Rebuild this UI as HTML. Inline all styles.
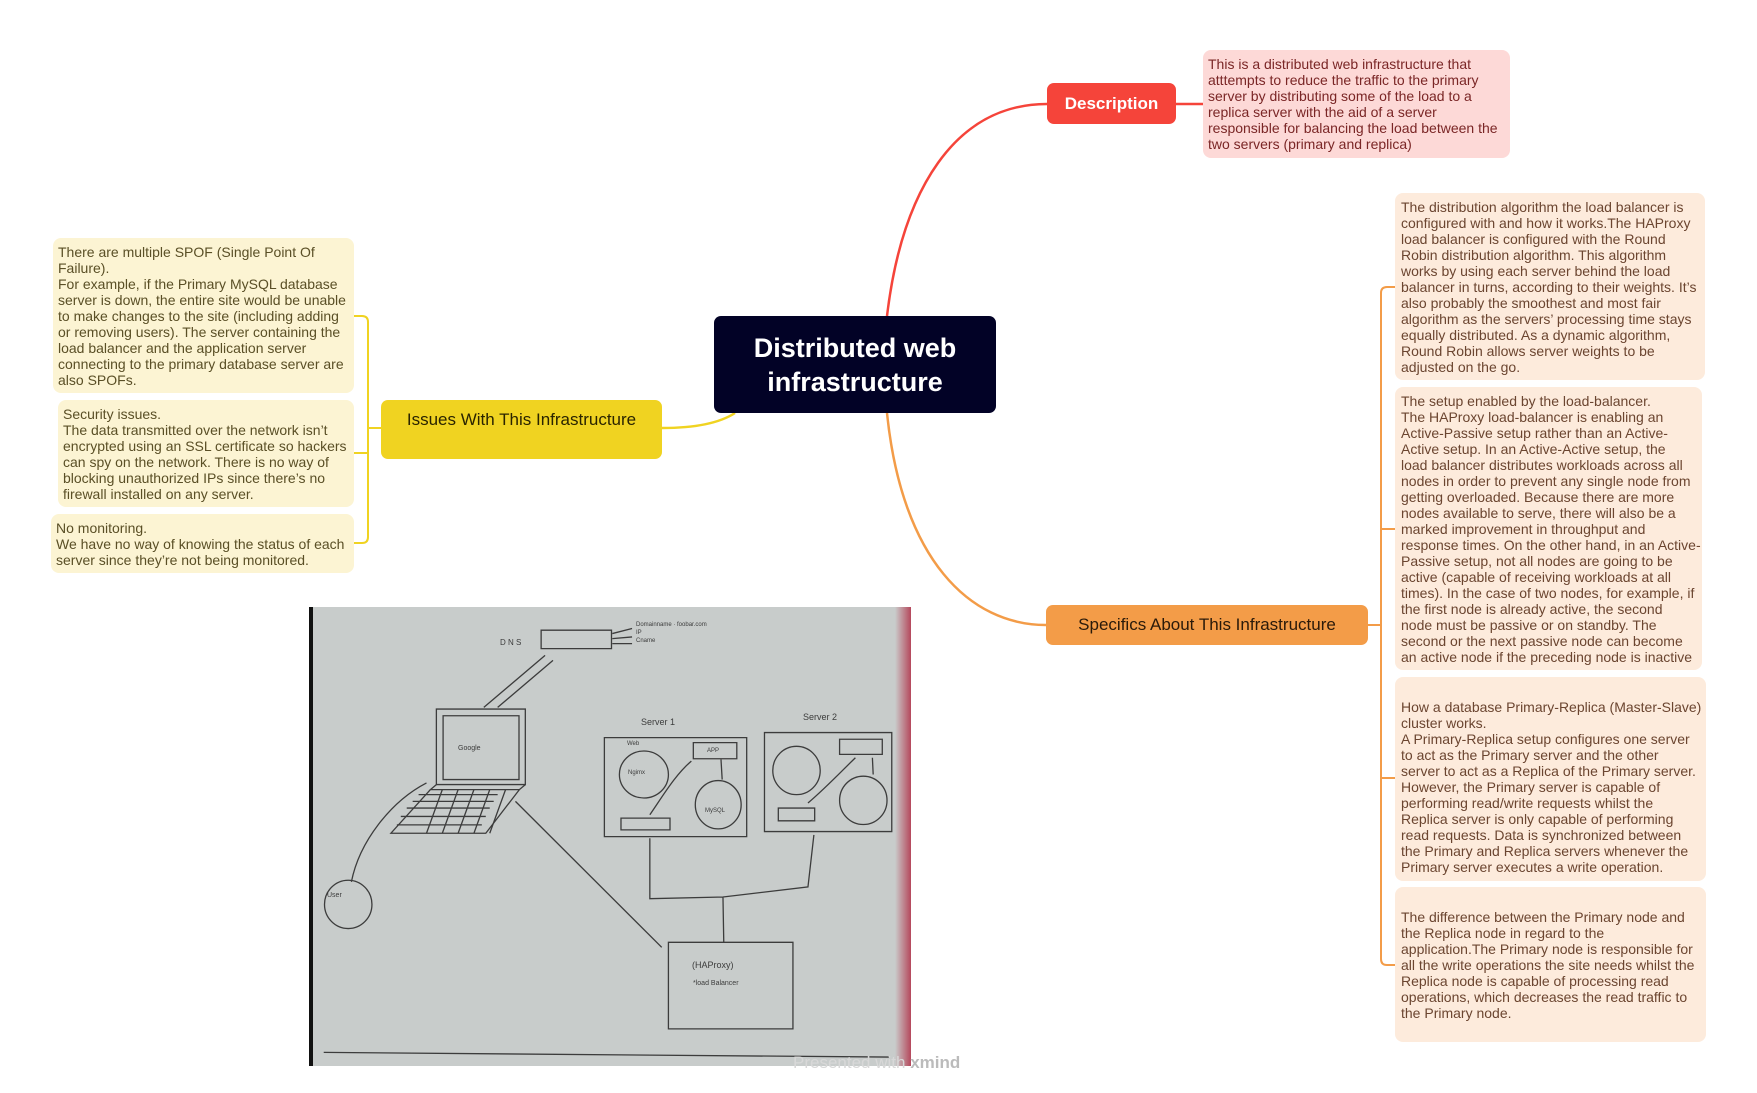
<!DOCTYPE html>
<html><head><meta charset="utf-8"><style>
body{margin:0;width:1757px;height:1093px;background:#fff;position:relative;overflow:hidden;font-family:"Liberation Sans",sans-serif}
.b{position:absolute;border-radius:8px}
.t{position:absolute;font-size:14px;line-height:16px;white-space:nowrap}
.lab{position:absolute;display:flex;align-items:center;justify-content:center;border-radius:7px;font-size:17px;white-space:nowrap}
</style></head><body>
<svg width="1757" height="1093" style="position:absolute;left:0;top:0">
<g fill="none" stroke-width="2.5">
<path d="M887 316 C902 190 955 104 1047 104" stroke="#f5443a"/>
<path d="M1176 104 L1203 104" stroke="#f5443a"/>
<path d="M887 413 C902 560 970 625 1046 625" stroke="#f39c48"/>
<path d="M735 413 Q712 428 662 428" stroke="#f0d321"/>
</g>
<g fill="none" stroke-width="2">
<path d="M354 316 L362 316 Q368 316 368 322 L368 537 Q368 543 362 543 L354 543" stroke="#f0d321"/>
<path d="M368 428 L381 428 M368 453 L354 453" stroke="#f0d321"/>
<path d="M1395 287 L1387 287 Q1381 287 1381 293 L1381 959 Q1381 965 1387 965 L1395 965" stroke="#f39c48"/>
<path d="M1381 529 L1395 529 M1381 778 L1395 778 M1368 625 L1381 625" stroke="#f39c48"/>
</g>
</svg>

<div class="lab" style="left:714px;top:316px;width:282px;height:97px;background:#020226;color:#fff;font-size:27px;font-weight:bold;line-height:34px;text-align:center;flex-direction:column">Distributed web<br>infrastructure</div>
<div class="lab" style="left:1047px;top:83px;width:129px;height:41px;background:#f5443a;color:#fff;font-weight:bold">Description</div>
<div class="lab" style="left:1046px;top:605px;width:322px;height:40px;background:#f39c48;color:#2a1a0a">Specifics About This Infrastructure</div>
<div class="lab" style="left:381px;top:400px;width:281px;height:59px;background:#f0d321;color:#2a2400;align-items:flex-start;padding-top:10px;box-sizing:border-box">Issues With This Infrastructure</div>

<div class="b" style="left:1203px;top:50px;width:307px;height:108px;background:#fdd9d7"></div>
<div class="t" style="left:1208px;top:56px;color:#7a2626">This is a distributed web infrastructure that<br>atttempts to reduce the traffic to the primary<br>server by distributing some of the load to a<br>replica server with the aid of a server<br>responsible for balancing the load between the<br>two servers (primary and replica)</div>

<div class="b" style="left:53px;top:238px;width:301px;height:155px;background:#fcf4d3"></div>
<div class="t" style="left:58px;top:244px;color:#5a4f26">There are multiple SPOF (Single Point Of<br>Failure).<br>For example, if the Primary MySQL database<br>server is down, the entire site would be unable<br>to make changes to the site (including adding<br>or removing users). The server containing the<br>load balancer and the application server<br>connecting to the primary database server are<br>also SPOFs.</div>
<div class="b" style="left:58px;top:400px;width:296px;height:107px;background:#fcf4d3"></div>
<div class="t" style="left:63px;top:406px;color:#5a4f26">Security issues.<br>The data transmitted over the network isn’t<br>encrypted using an SSL certificate so hackers<br>can spy on the network. There is no way of<br>blocking unauthorized IPs since there’s no<br>firewall installed on any server.</div>
<div class="b" style="left:51px;top:514px;width:303px;height:59px;background:#fcf4d3"></div>
<div class="t" style="left:56px;top:520px;color:#5a4f26">No monitoring.<br>We have no way of knowing the status of each<br>server since they’re not being monitored.</div>

<div class="b" style="left:1395px;top:193px;width:310px;height:187px;background:#fdebdc"></div>
<div class="t" style="left:1401px;top:199px;color:#6b4530">The distribution algorithm the load balancer is<br>configured with and how it works.The HAProxy<br>load balancer is configured with the Round<br>Robin distribution algorithm. This algorithm<br>works by using each server behind the load<br>balancer in turns, according to their weights. It’s<br>also probably the smoothest and most fair<br>algorithm as the servers’ processing time stays<br>equally distributed. As a dynamic algorithm,<br>Round Robin allows server weights to be<br>adjusted on the go.</div>
<div class="b" style="left:1395px;top:387px;width:307px;height:283px;background:#fdebdc"></div>
<div class="t" style="left:1401px;top:393px;color:#6b4530">The setup enabled by the load-balancer.<br>The HAProxy load-balancer is enabling an<br>Active-Passive setup rather than an Active-<br>Active setup. In an Active-Active setup, the<br>load balancer distributes workloads across all<br>nodes in order to prevent any single node from<br>getting overloaded. Because there are more<br>nodes available to serve, there will also be a<br>marked improvement in throughput and<br>response times. On the other hand, in an Active-<br>Passive setup, not all nodes are going to be<br>active (capable of receiving workloads at all<br>times). In the case of two nodes, for example, if<br>the first node is already active, the second<br>node must be passive or on standby. The<br>second or the next passive node can become<br>an active node if the preceding node is inactive</div>
<div class="b" style="left:1395px;top:677px;width:311px;height:204px;background:#fdebdc"></div>
<div class="t" style="left:1401px;top:699px;color:#6b4530">How a database Primary-Replica (Master-Slave)<br>cluster works.<br>A Primary-Replica setup configures one server<br>to act as the Primary server and the other<br>server to act as a Replica of the Primary server.<br>However, the Primary server is capable of<br>performing read/write requests whilst the<br>Replica server is only capable of performing<br>read requests. Data is synchronized between<br>the Primary and Replica servers whenever the<br>Primary server executes a write operation.</div>
<div class="b" style="left:1395px;top:887px;width:311px;height:155px;background:#fdebdc"></div>
<div class="t" style="left:1401px;top:909px;color:#6b4530">The difference between the Primary node and<br>the Replica node in regard to the<br>application.The Primary node is responsible for<br>all the write operations the site needs whilst the<br>Replica node is capable of processing read<br>operations, which decreases the read traffic to<br>the Primary node.</div>

<svg width="1757" height="1093" style="position:absolute;left:0;top:0">
<defs><linearGradient id="rg" x1="0" x2="1"><stop offset="0" stop-color="#c9cccb"/><stop offset="1" stop-color="#b5485c"/></linearGradient></defs>
<rect x="309" y="607" width="602" height="459" fill="#c8cccb"/>
<rect x="309" y="607" width="4" height="459" fill="#111"/>
<rect x="895" y="607" width="16" height="459" fill="url(#rg)"/>
<g transform="translate(300,600) scale(0.3953,0.3356)" fill="none" stroke="#3c3c3c" stroke-width="1.3">
<rect x="610" y="90" width="178" height="55" vector-effect="non-scaling-stroke"/>
<path d="M790 100 L840 85 M790 115 L840 110 M790 130 L840 130" vector-effect="non-scaling-stroke"/>
<path d="M465 320 L620 165 M640 180 L500 320" vector-effect="non-scaling-stroke"/>
<rect x="345" y="325" width="225" height="225" vector-effect="non-scaling-stroke"/>
<rect x="362" y="345" width="192" height="190" vector-effect="non-scaling-stroke"/>
<path d="M345 550 L330 565 L555 565 L570 550 M330 565 L230 695 L470 695 L555 565" vector-effect="non-scaling-stroke"/>
<path d="M300 580 L500 580 M285 600 L490 600 M270 620 L480 620 M255 645 L470 645 M245 670 L460 670 M360 565 L320 695 M400 565 L360 695 M440 565 L400 695 M480 565 L440 695 M520 565 L480 695" vector-effect="non-scaling-stroke"/>
<ellipse cx="122" cy="907" rx="60" ry="72" vector-effect="non-scaling-stroke"/>
<path d="M130 840 C150 720 230 600 320 545" vector-effect="non-scaling-stroke"/>
<path d="M545 600 L915 1035" vector-effect="non-scaling-stroke"/>
<rect x="770" y="410" width="360" height="295" vector-effect="non-scaling-stroke"/>
<rect x="1175" y="395" width="322" height="295" vector-effect="non-scaling-stroke"/>
<ellipse cx="870" cy="520" rx="62" ry="70" vector-effect="non-scaling-stroke"/>
<ellipse cx="1058" cy="610" rx="58" ry="72" vector-effect="non-scaling-stroke"/>
<ellipse cx="1256" cy="508" rx="60" ry="72" vector-effect="non-scaling-stroke"/>
<ellipse cx="1425" cy="597" rx="60" ry="72" vector-effect="non-scaling-stroke"/>
<rect x="995" y="425" width="110" height="48" vector-effect="non-scaling-stroke"/>
<rect x="1365" y="415" width="108" height="45" vector-effect="non-scaling-stroke"/>
<rect x="812" y="650" width="124" height="35" vector-effect="non-scaling-stroke"/>
<rect x="1210" y="620" width="92" height="38" vector-effect="non-scaling-stroke"/>
<path d="M885 640 C920 580 950 520 990 480 M1285 605 C1330 560 1370 510 1405 470 M1065 475 L1068 535 M1448 470 L1450 520" vector-effect="non-scaling-stroke"/>
<path d="M885 710 L885 890 L1070 885 L1285 855 L1300 700 M1070 885 L1072 1020" vector-effect="non-scaling-stroke"/>
<rect x="932" y="1020" width="315" height="258" vector-effect="non-scaling-stroke"/>
<path d="M60 1348 L1490 1362" vector-effect="non-scaling-stroke"/>
</g>
<g font-family="Liberation Sans, sans-serif" fill="#3c3c3c" font-size="8">
<text x="500" y="645">D N S</text>
<text x="636" y="626" font-size="6">Domainname · foobar.com</text>
<text x="636" y="634" font-size="6">IP</text>
<text x="636" y="642" font-size="6">Cname</text>
<text x="641" y="725" font-size="9">Server 1</text>
<text x="803" y="720" font-size="9">Server 2</text>
<text x="458" y="750" font-size="7">Google</text>
<text x="327" y="897" font-size="7">User</text>
<text x="692" y="968" font-size="9">(HAProxy)</text>
<text x="693" y="985" font-size="7">*load Balancer</text>
<text x="627" y="745" font-size="6">Web</text><text x="628" y="774" font-size="6">Ngimx</text>
<text x="707" y="752" font-size="6">APP</text><text x="705" y="812" font-size="6">MySQL</text>
</g>
<text x="793" y="1068" font-family="Liberation Sans, sans-serif" font-size="17" fill="#d8d8d8">Presented with <tspan font-weight="bold" fill="#bbb">xmind</tspan></text>
</svg>
</body></html>
